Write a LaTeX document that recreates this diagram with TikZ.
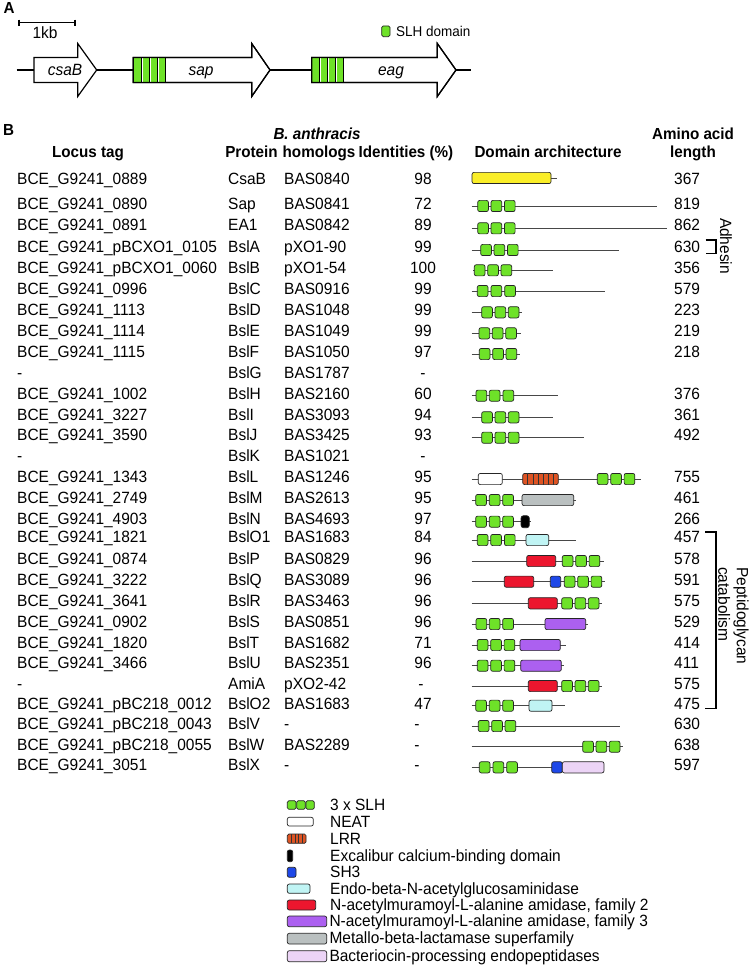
\documentclass[tikz,border=0pt]{standalone}
\usepackage{fontspec}
\setmainfont[FakeStretch=0.95]{Liberation Sans}
\definecolor{slhgreen}{RGB}{110,226,40}
\definecolor{csayellow}{RGB}{250,238,40}
\definecolor{lrrorange}{RGB}{222,84,36}
\definecolor{sh3blue}{RGB}{30,72,232}
\definecolor{endocyan}{RGB}{192,244,244}
\definecolor{amired}{RGB}{236,22,46}
\definecolor{amipurple}{RGB}{172,96,240}
\definecolor{metgrey}{RGB}{186,192,192}
\definecolor{bacpink}{RGB}{236,212,246}
\newcommand{\tabfont}{\fontsize{16.3}{18.5}\selectfont}
\newcommand{\hdfont}{\fontsize{16}{18}\selectfont\bfseries}
\newcommand{\smallfnt}{\fontsize{14.2}{16}\selectfont}
\tikzset{
  tx/.style={inner sep=0pt, font=\tabfont},
  hd/.style={inner sep=0pt, font=\hdfont, anchor=base},
  backbone/.style={draw=black!72, line width=0.8pt},
  dbox/.style={draw=black!85, line width=0.7pt, rounded corners=2pt},
  slhbox/.style={dbox, fill=slhgreen},
  genearrow/.style={draw=black, line width=1.2pt, fill=white},
  brk/.style={draw=black, line width=1.3pt},
}
% SLH box: x-left, y-centre
\newcommand{\SLH}[2]{\draw[slhbox] (#1,#2-5.6) rectangle (#1+10.7,#2+5.6);}
\newcommand{\SLHthree}[4]{\SLH{#1}{#4}\SLH{#2}{#4}\SLH{#3}{#4}}
% domain box: style, x1, x2, y-centre
\newcommand{\dom}[4]{\draw[dbox,#1] (#2,#4-5.6) rectangle (#3,#4+5.6);}
% backbone: x1, x2, y
\newcommand{\bb}[3]{\draw[backbone] (#1,#3) -- (#2,#3);}
% LRR: x1, x2, y, n segments
\newcommand{\LRR}[4]{%
  \draw[dbox,fill=lrrorange] (#1,#3-5.6) rectangle (#2,#3+5.6);
  \foreach \k in {1,...,\numexpr#4-1\relax}{%
    \draw[black!80,line width=0.6pt] ({#1+(#2-#1)*\k/#4},#3-5.6) -- ({#1+(#2-#1)*\k/#4},#3+5.6);}}
% table row: name, y, locus, protein, homolog, ident-x, ident, length
\newcommand{\trow}[8]{%
  \node[tx,anchor=base west] (loc#1) at (17,#2+5.8) {#3};
  \node[tx,anchor=base west] (pro#1) at (228,#2+5.8) {#4};
  \node[tx,anchor=base west] (hom#1) at (284,#2+5.8) {#5};
  \node[tx,anchor=base] (idn#1) at (#6,#2+5.8) {#7};
  \node[tx,anchor=base west] (len#1) at (674,#2+5.8) {#8};}
\begin{document}
\begin{tikzpicture}[x=1pt,y=-1pt]
\useasboundingbox[fill=white] (0,0) rectangle (750,965);

% ---------------- Panel A ----------------
\node[inner sep=0pt,font=\hdfont] (labA) at (9,8.5) {A};
\draw[line width=1.1pt] (19,22.7) -- (75,22.7);
\draw[line width=1.1pt] (19,19.7) -- (19,25.7);
\draw[line width=1.1pt] (75,19.7) -- (75,25.7);
\node[tx,anchor=base] (kb) at (45,38.3) {1kb};

\draw[slhbox,rounded corners=1.5pt] (381.7,26) rectangle (390,36.7);
\node[inner sep=0pt,font=\smallfnt,anchor=base west] (slhlab) at (396,36.2) {SLH domain};

\draw[line width=1.2pt] (16.7,70) -- (470.7,70);
% csaB
\draw[genearrow] (34,57.5) -- (77.7,57.5) -- (77.7,43.5) -- (96.7,70) -- (77.7,96.5) -- (77.7,82.5) -- (34,82.5) -- cycle;
% sap
\draw[genearrow] (133.3,57.5) -- (251.7,57.5) -- (251.7,43.5) -- (270,70) -- (251.7,96.5) -- (251.7,82.5) -- (133.3,82.5) -- cycle;
\fill[slhgreen] (133.3,57.5) rectangle (165.7,82.5);
\foreach \d in {141.3,149.3,157.3}{
  \draw[black,line width=0.8pt] (\d,57.5) -- (\d,82.5);
  \draw[white,line width=1.1pt] (\d+1.2,57.5) -- (\d+1.2,82.5);}
\draw[black,line width=1.1pt] (165.7,57.5) -- (165.7,82.5);
\draw[genearrow,fill=none] (133.3,57.5) -- (251.7,57.5) -- (251.7,43.5) -- (270,70) -- (251.7,96.5) -- (251.7,82.5) -- (133.3,82.5) -- cycle;
% eag
\draw[genearrow] (311.7,57.5) -- (437.3,57.5) -- (437.3,43.5) -- (456,70) -- (437.3,96.5) -- (437.3,82.5) -- (311.7,82.5) -- cycle;
\fill[slhgreen] (311.7,57.5) rectangle (343.3,82.5);
\foreach \d in {319.3,327.3,335.3}{
  \draw[black,line width=0.8pt] (\d,57.5) -- (\d,82.5);
  \draw[white,line width=1.1pt] (\d+1.2,57.5) -- (\d+1.2,82.5);}
\draw[black,line width=1.1pt] (343.3,57.5) -- (343.3,82.5);
\draw[genearrow,fill=none] (311.7,57.5) -- (437.3,57.5) -- (437.3,43.5) -- (456,70) -- (437.3,96.5) -- (437.3,82.5) -- (311.7,82.5) -- cycle;

\node[tx,font=\tabfont\itshape,anchor=base] (gcsab) at (65,75.5) {csaB};
\node[tx,font=\tabfont\itshape,anchor=base] (gsap) at (201,75.5) {sap};
\node[tx,font=\tabfont\itshape,anchor=base] (geag) at (391,75.5) {eag};

% ---------------- Panel B ----------------
\node[inner sep=0pt,font=\hdfont] (labB) at (8.5,130) {B};
\node[hd] (hloc) at (88,157.8) {Locus tag};
\node[hd] (hpro) at (251.5,157.8) {Protein};
\node[hd,font=\hdfont\itshape] (hba) at (317,139.8) {B. anthracis};
\node[hd] (hhom) at (319,157.8) {homologs};
\node[hd] (hid) at (406,157.8) {Identities (\%)};
\node[hd] (hdom) at (548,157.8) {Domain architecture};
\node[hd] (haa) at (693,139.8) {Amino acid};
\node[hd] (hlen) at (693,157.8) {length};

\trow{csab}{178.5}{BCE\_G9241\_0889}{CsaB}{BAS0840}{423}{98}{367}
\trow{sap}{203.5}{BCE\_G9241\_0890}{Sap}{BAS0841}{423}{72}{819}
\trow{ea1}{225}{BCE\_G9241\_0891}{EA1}{BAS0842}{423}{89}{862}
\trow{a}{246.5}{BCE\_G9241\_pBCXO1\_0105}{BslA}{pXO1-90}{423}{99}{630}
\trow{b}{267.5}{BCE\_G9241\_pBCXO1\_0060}{BslB}{pXO1-54}{423}{100}{356}
\trow{c}{289}{BCE\_G9241\_0996}{BslC}{BAS0916}{423}{99}{579}
\trow{d}{310}{BCE\_G9241\_1113}{BslD}{BAS1048}{423}{99}{223}
\trow{e}{330.7}{BCE\_G9241\_1114}{BslE}{BAS1049}{423}{99}{219}
\trow{f}{351.7}{BCE\_G9241\_1115}{BslF}{BAS1050}{423}{97}{218}
\trow{g}{372.3}{-}{BslG}{BAS1787}{423}{-}{}
\trow{h}{393.3}{BCE\_G9241\_1002}{BslH}{BAS2160}{423}{60}{376}
\trow{i}{415}{BCE\_G9241\_3227}{BslI}{BAS3093}{423}{94}{361}
\trow{j}{435}{BCE\_G9241\_3590}{BslJ}{BAS3425}{423}{93}{492}
\trow{k}{456}{-}{BslK}{BAS1021}{423}{-}{}
\trow{l}{477}{BCE\_G9241\_1343}{BslL}{BAS1246}{423}{95}{755}
\trow{m}{497.7}{BCE\_G9241\_2749}{BslM}{BAS2613}{423}{95}{461}
\trow{n}{518.3}{BCE\_G9241\_4903}{BslN}{BAS4693}{423}{97}{266}
\trow{oa}{537}{BCE\_G9241\_1821}{BslO1}{BAS1683}{423}{84}{457}
\trow{p}{558.3}{BCE\_G9241\_0874}{BslP}{BAS0829}{423}{96}{578}
\trow{q}{579.3}{BCE\_G9241\_3222}{BslQ}{BAS3089}{423}{96}{591}
\trow{r}{600.7}{BCE\_G9241\_3641}{BslR}{BAS3463}{423}{96}{575}
\trow{s}{621.7}{BCE\_G9241\_0902}{BslS}{BAS0851}{423}{96}{529}
\trow{t}{642.3}{BCE\_G9241\_1820}{BslT}{BAS1682}{423}{71}{414}
\trow{u}{662.7}{BCE\_G9241\_3466}{BslU}{BAS2351}{423}{96}{411}
\trow{amia}{684}{-}{AmiA}{pXO2-42}{421}{-}{575}
\trow{ob}{703.3}{BCE\_G9241\_pBC218\_0012}{BslO2}{BAS1683}{423}{47}{475}
\trow{v}{724}{BCE\_G9241\_pBC218\_0043}{BslV}{-}{417}{-}{630}
\trow{w}{744.3}{BCE\_G9241\_pBC218\_0055}{BslW}{BAS2289}{417}{-}{638}
\trow{x}{765}{BCE\_G9241\_3051}{BslX}{-}{417}{-}{597}

% domain architectures
\bb{551}{557}{178}
\dom{fill=csayellow}{472}{551}{178}
\bb{471.7}{657}{206}\SLHthree{477.7}{491}{504.4}{206}
\bb{471.7}{666.7}{228.3}\SLHthree{477.7}{491}{504.4}{228.3}
\bb{471.7}{619.3}{250}\SLHthree{480.7}{494}{507.4}{250}
\bb{473.3}{552.7}{270.3}\SLHthree{474.3}{487.7}{501}{270.3}
\bb{471.7}{605}{291}\SLHthree{477.3}{491}{504.7}{291}
\bb{471.7}{522.3}{312.3}\SLHthree{481.7}{495}{508.3}{312.3}
\bb{471.7}{520.7}{333.3}\SLHthree{479}{492.3}{505.7}{333.3}
\bb{471.7}{520}{354}\SLHthree{479.3}{492.7}{506}{354}
\bb{471.7}{558.3}{395.7}\SLHthree{476}{489.3}{503}{395.7}
\bb{471.7}{553.3}{417.3}\SLHthree{481.7}{495}{508.3}{417.3}
\bb{471.7}{584}{437.7}\SLHthree{481.7}{495}{508.3}{437.7}
% BslL
\bb{471.7}{641}{479}
\dom{fill=white}{478.3}{502.3}{479}
\LRR{522.7}{558.3}{479}{7}
\SLHthree{597.3}{610.7}{624.1}{479}
% BslM
\bb{471.7}{575.7}{500}\SLHthree{475.7}{489.3}{502.7}{500}
\dom{fill=metgrey}{522}{573.7}{500}
% BslN
\bb{471.7}{530.7}{521.7}\SLHthree{475.7}{489.3}{502.7}{521.7}
\draw[dbox,fill=black,rounded corners=2.5pt] (521,515.7) rectangle (529.3,527.7);
% BslO1
\bb{471.7}{576}{540}\SLHthree{477.3}{490.7}{504.4}{540}
\dom{fill=endocyan}{526}{548.7}{540}
% BslP
\bb{471.7}{604.3}{561}
\dom{fill=amired}{526.7}{555.7}{561}
\SLHthree{562.3}{575.7}{589.1}{561}
% BslQ
\bb{471.7}{605}{581.7}
\dom{fill=amired}{504.3}{533.7}{581.7}
\dom{fill=sh3blue}{550.3}{560.7}{581.7}
\SLHthree{564.3}{577.7}{591.1}{581.7}
% BslR
\bb{471.7}{601.7}{603.3}
\dom{fill=amired}{528.3}{557.3}{603.3}
\SLHthree{561.7}{575}{588.3}{603.3}
% BslS
\bb{471.7}{588.3}{624}\SLHthree{476}{489.3}{502.7}{624}
\dom{fill=amipurple}{545}{585.7}{624}
% BslT
\bb{471.7}{566}{645}\SLHthree{477.3}{490.7}{504.1}{645}
\dom{fill=amipurple}{520}{560.3}{645}
% BslU
\bb{471.7}{564.3}{665.7}\SLHthree{477.3}{490.7}{504.1}{665.7}
\dom{fill=amipurple}{520.7}{561.3}{665.7}
% AmiA
\bb{471.7}{601.7}{686}
\dom{fill=amired}{528.3}{557.3}{686}
\SLHthree{561.7}{575}{588.3}{686}
% BslO2
\bb{471.7}{565}{705.7}\SLHthree{475.7}{489.3}{502.7}{705.7}
\dom{fill=endocyan}{529}{552}{705.7}
% BslV
\bb{471.7}{620}{726}\SLHthree{478.3}{491.7}{505}{726}
% BslW
\bb{471.7}{622.7}{746.7}\SLHthree{582.7}{596}{609.3}{746.7}
% BslX
\bb{471.7}{562.3}{767.3}\SLHthree{479.3}{493}{506.7}{767.3}
\dom{fill=sh3blue}{551.7}{562.3}{767.3}
\dom{fill=bacpink}{562.3}{604}{767.3}

% brackets and group labels
\draw[brk] (705.7,240) -- (716,240) -- (716,253.3) -- (705.7,253.3);
\node[tx,rotate=-90] (adh) at (726,246) {Adhesin};
\draw[brk] (705,532) -- (716,532) -- (716,708.3) -- (705,708.3);
\node[tx,rotate=-90,align=left,anchor=west] (pgc) at (733.5,567) {Peptidoglycan\\catabolism};

% ---------------- Legend ----------------
\draw[slhbox,rounded corners=1.5pt] (287.3,800.7) rectangle (296,809.3);
\draw[slhbox,rounded corners=1.5pt] (296.7,800.7) rectangle (305.3,809.3);
\draw[slhbox,rounded corners=1.5pt] (306,800.7) rectangle (314.3,809.3);
\node[tx,anchor=base west] (l1) at (330,810.8) {3 x SLH};
\draw[dbox,fill=white] (287.3,817.3) rectangle (313.3,826);
\node[tx,anchor=base west] (l2) at (330,827.5) {NEAT};
\draw[dbox,fill=lrrorange,rounded corners=1.5pt] (287.3,834) rectangle (306,843.3);
\foreach \d in {291,294.8,298.5,302.3}{\draw[black!80,line width=0.6pt] (\d,834) -- (\d,843.3);}
\node[tx,anchor=base west] (l3) at (330,844.1) {LRR};
\draw[dbox,fill=black,rounded corners=2pt] (287.3,850) rectangle (292.7,861.7);
\node[tx,anchor=base west] (l4) at (330,861.5) {Excalibur calcium-binding domain};
\draw[dbox,fill=sh3blue] (287.3,867.3) rectangle (296,877.3);
\node[tx,anchor=base west] (l5) at (330,877.8) {SH3};
\draw[dbox,fill=endocyan] (287.3,884) rectangle (310,893.3);
\node[tx,anchor=base west] (l6) at (330,894.8) {Endo-beta-N-acetylglucosaminidase};
\draw[dbox,fill=amired] (287.3,900) rectangle (315.7,910);
\node[tx,anchor=base west] (l7) at (330,910.8) {N-acetylmuramoyl-L-alanine amidase, family 2};
\draw[dbox,fill=amipurple] (287.3,916) rectangle (326.7,926.7);
\node[tx,anchor=base west] (l8) at (329.3,926.8) {N-acetylmuramoyl-L-alanine amidase, family 3};
\draw[dbox,fill=metgrey] (287.3,933.3) rectangle (326.7,944);
\node[tx,anchor=base west] (l9) at (329.3,943.8) {Metallo-beta-lactamase superfamily};
\draw[dbox,fill=bacpink] (287.3,950.7) rectangle (326.7,961.7);
\node[tx,anchor=base west] (l10) at (329.3,961.3) {Bacteriocin-processing endopeptidases};
\end{tikzpicture}
\end{document}
